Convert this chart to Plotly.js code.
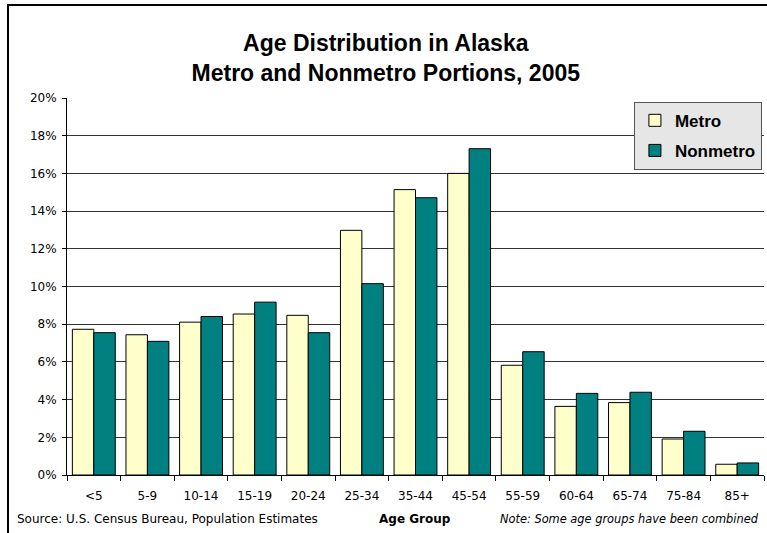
<!DOCTYPE html>
<html>
<head>
<meta charset="utf-8">
<script src="https://cdn.plot.ly/plotly-3.0.1.min.js"></script>
<style>
html,body{margin:0;padding:0;background:#fff;}
#wrap{position:relative;width:767px;height:533px;overflow:hidden;}
#chart{position:absolute;left:0;top:0;width:767px;height:533px;}
#frame{position:absolute;left:7px;top:4px;width:800px;height:600px;border-left:2px solid #000;border-top:2px solid #000;pointer-events:none;}
</style>
</head>
<body>
<div id="wrap"><div id="chart"></div><div id="frame"></div></div>
<script>
const ageGroups = ['<5','5-9','10-14','15-19','20-24','25-34','35-44','45-54','55-59','60-64','65-74','75-84','85+'];
const metro    = [7.73, 7.44, 8.11, 8.54, 8.47, 12.98, 15.14, 16.0, 5.82, 3.64, 3.84, 1.91, 0.57];
const nonmetro = [7.55, 7.09, 8.41, 9.17, 7.55, 10.15, 14.71, 17.31, 6.54, 4.33, 4.39, 2.32, 0.64];
const yTicks = [0,2,4,6,8,10,12,14,16,18,20];

const tickFont = {family:'DejaVu Sans, Verdana, sans-serif', size:12, color:'#000'};

const traces = [
  {type:'bar', name:'Metro', x:ageGroups, y:metro, legendgroup:'a',
   marker:{color:'#FFFFCC', line:{color:'#000', width:1}}},
  {type:'bar', name:'Nonmetro', x:ageGroups, y:nonmetro, legendgroup:'b',
   marker:{color:'#008080', line:{color:'#000', width:1}}}
];

const layout = {
  width:767, height:533,
  margin:{l:67, r:3, t:98, b:58},
  paper_bgcolor:'rgba(0,0,0,0)', plot_bgcolor:'#fff',
  barmode:'group', bargap:0.2, bargroupgap:0,
  showlegend:true,
  title:{text:'Age Distribution in Alaska<br>Metro and Nonmetro Portions, 2005',
         font:{family:'Liberation Sans, Arial, sans-serif', size:23, color:'#000', weight:'bold'},
         x:0.503, xanchor:'center', y:0.905, yanchor:'middle'},
  xaxis:{type:'category', tickson:'boundaries', ticks:'outside', ticklen:5, tickcolor:'#000',
         ticklabelstandoff:10,
         showline:true, linecolor:'#000', linewidth:1, showgrid:false, tickfont:tickFont,
         fixedrange:true},
  yaxis:{range:[0,20], tickvals:yTicks, ticktext:yTicks.map(v=>v+'%'), ticks:'outside', ticklen:4,
         tickcolor:'#000', showline:true, linecolor:'#000', linewidth:1, ticklabelstandoff:3,
         showgrid:true, gridcolor:'#333', gridwidth:1, zeroline:false, tickfont:tickFont},
  legend:{x:0.997, xanchor:'right', y:0.99, yanchor:'top', bgcolor:'#e6e6e6',
          bordercolor:'#555', borderwidth:1, traceorder:'grouped', tracegroupgap:5,
          font:{family:'Liberation Sans, Arial, sans-serif', size:17, color:'#000', weight:'bold'},
          itemwidth:30},
  annotations:[
    {text:'Source: U.S. Census Bureau, Population Estimates', xref:'paper', yref:'paper',
     x:-0.0746, xanchor:'left', y:-0.117, yanchor:'middle', showarrow:false, font:tickFont},
    {text:'<b>Age Group</b>', xref:'paper', yref:'paper', x:0.499, xanchor:'center',
     y:-0.117, yanchor:'middle', showarrow:false,
     font:{family:'DejaVu Sans, Verdana, sans-serif', size:12, color:'#000'}},
    {text:'<i>Note: Some age groups have been combined</i>', xref:'paper', yref:'paper',
     x:0.6185, xanchor:'left', y:-0.117, yanchor:'middle', showarrow:false,
     font:{family:'DejaVu Sans, Verdana, sans-serif', size:11.4, color:'#000'}}
  ]
};

Plotly.newPlot('chart', traces, layout, {displayModeBar:false, staticPlot:true});
</script>
</body>
</html>
